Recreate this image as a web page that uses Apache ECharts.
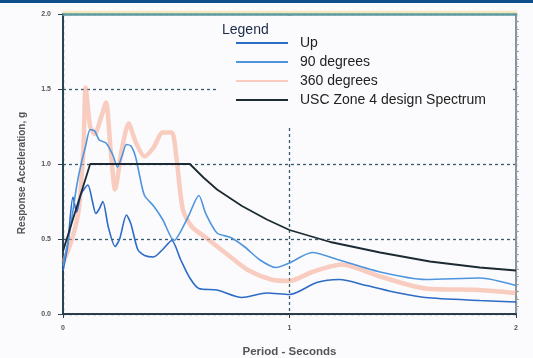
<!DOCTYPE html>
<html>
<head>
<meta charset="utf-8">
<script src="https://cdn.jsdelivr.net/npm/echarts@6/dist/echarts.min.js"></script>
<style>
html,body{margin:0;padding:0;background:#fbfbfd;}
#chart{width:533px;height:358px;}
</style>
</head>
<body>
<div id="chart"></div>
<script>
// Period (s) / acceleration (g) pairs
const upSeries = [[0,0.29],[0.02,0.45],[0.044,0.78],[0.06,0.68],[0.08,0.8],[0.11,0.86],[0.13,0.75],[0.145,0.67],[0.16,0.7],[0.176,0.75],[0.2,0.58],[0.23,0.45],[0.25,0.5],[0.28,0.66],[0.3,0.6],[0.33,0.43],[0.36,0.39],[0.40,0.38],[0.44,0.43],[0.48,0.49],[0.52,0.36],[0.56,0.24],[0.6,0.17],[0.68,0.16],[0.79,0.11],[0.9,0.14],[1.0,0.13],[1.12,0.21],[1.22,0.23],[1.34,0.19],[1.45,0.15],[1.6,0.11],[1.84,0.09],[2.0,0.08]];
const deg90Series = [[0,0.32],[0.03,0.55],[0.06,0.85],[0.08,1.0],[0.1,1.12],[0.12,1.23],[0.14,1.22],[0.16,1.16],[0.19,1.14],[0.22,1.06],[0.24,0.98],[0.26,1.05],[0.28,1.13],[0.30,1.12],[0.32,1.05],[0.34,0.91],[0.36,0.79],[0.40,0.72],[0.44,0.63],[0.49,0.49],[0.55,0.64],[0.6,0.79],[0.63,0.67],[0.68,0.54],[0.74,0.51],[0.8,0.45],[0.87,0.36],[0.94,0.31],[1.0,0.34],[1.1,0.41],[1.22,0.36],[1.4,0.28],[1.6,0.23],[1.84,0.24],[2.0,0.19]];
const deg360Series = [[0,0.34],[0.04,0.5],[0.07,0.7],[0.09,1.1],[0.10,1.51],[0.12,1.25],[0.14,1.2],[0.17,1.32],[0.19,1.41],[0.21,1.1],[0.23,0.83],[0.26,1.1],[0.29,1.27],[0.32,1.15],[0.36,1.05],[0.40,1.11],[0.44,1.21],[0.48,1.21],[0.50,1.05],[0.53,0.69],[0.57,0.58],[0.63,0.51],[0.74,0.38],[0.82,0.29],[0.92,0.23],[1.0,0.22],[1.1,0.28],[1.23,0.33],[1.4,0.25],[1.6,0.17],[1.84,0.16],[2.0,0.14]];
const uscSeries = [[0,0.42],[0.12,1.0],[0.56,1.0],[0.62,0.91],[0.68,0.83],[0.74,0.77],[0.79,0.72],[0.9,0.63],[1.0,0.56],[1.18,0.48],[1.4,0.41],[1.62,0.35],[1.84,0.31],[2.0,0.29]];
const seriesNames = ['Up','90 degrees','360 degrees','USC Zone 4 design Spectrum'];
const xTicks = [0,1,2];
const yTicks = [0,0.5,1,1.5,2];

const chart = echarts.init(document.getElementById('chart'));
const gridCol = '#3a5a6e';
const tickFont = {fontFamily:'Liberation Sans, Arial', fontSize:7, fontWeight:'bold', color:'#555'};
chart.setOption({
  backgroundColor:'#fbfbfd',
  animation:false,
  grid:{left:63, top:14, width:453, height:300, outerBoundsMode:'none', containLabel:false},
  xAxis:[{
    type:'value', min:xTicks[0], max:xTicks[xTicks.length-1], interval:1,
    name:'Period - Seconds', nameLocation:'middle', nameGap:32,
    nameTextStyle:{fontFamily:'Liberation Sans, Arial', fontSize:11.5, fontWeight:'bold', color:'#555'},
    axisLine:{onZero:false, lineStyle:{color:'#2b3d48', width:2}},
    axisTick:{show:true, length:4, lineStyle:{color:'#2b3d48'}},
    axisLabel:Object.assign({margin:11, formatter:v=>String(v)}, tickFont),
    splitLine:{show:true, lineStyle:{color:gridCol, type:[3,3], width:1.3}}
  },{
    type:'value', position:'top', min:0, max:2,
    axisLine:{onZero:false, lineStyle:{color:'#5f9ba0', width:2.5, shadowColor:'#efe2a2', shadowOffsetY:-2, shadowBlur:2}},
    axisTick:{show:false}, axisLabel:{show:false}, splitLine:{show:false}
  }],
  yAxis:[{
    type:'value', min:yTicks[0], max:yTicks[yTicks.length-1], interval:0.5,
    name:'Response Acceleration, g', nameLocation:'middle', nameGap:36, nameRotate:90,
    nameTextStyle:{fontFamily:'Liberation Sans, Arial', fontSize:10, fontWeight:'bold', color:'#555', padding:[0,0,0,-18]},
    axisLine:{show:true, onZero:false, lineStyle:{color:'#2b4454', width:2}},
    axisTick:{show:true, length:5, lineStyle:{color:'#2b4454'}},
    axisLabel:Object.assign({margin:12, formatter:v=>v.toFixed(1)}, tickFont),
    splitLine:{show:true, lineStyle:{color:gridCol, type:[3,3], width:1.3}}
  },{
    type:'value', position:'right', min:0, max:2, interval:0.5,
    axisLine:{show:true, onZero:false, lineStyle:{color:'#8a969b', width:2}},
    axisTick:{show:false}, axisLabel:{show:false}, splitLine:{show:false},
    minorTick:{show:true, splitNumber:10, length:3, lineStyle:{color:'#9aa5aa'}}
  }],
  legend:{
    orient:'vertical', left:217, top:16,
    padding:[20,26,21,18],
    backgroundColor:'#fbfbfd',
    itemWidth:52, itemHeight:14, itemGap:5,
    itemStyle:{opacity:0},
    textStyle:{fontFamily:'Liberation Sans, Arial', fontSize:14, color:'#222', lineHeight:14, padding:[0,0,0,7]},
    data:seriesNames
  },
  graphic:[
    {type:'rect', left:0, top:0, shape:{width:533, height:3}, style:{fill:'#0d4f8b'}, z:100},
    {type:'text', left:222, top:23, z:100, style:{text:'Legend', fontFamily:'Liberation Sans, Arial', fontSize:14, fill:'#1c2a48'}}
  ],
  series:[
    {name:seriesNames[0], type:'line', data:upSeries, symbol:'none', smooth:0.25, z:4,
     lineStyle:{color:'#2c6bc6', width:1.6}, itemStyle:{color:'#2c6bc6'}},
    {name:seriesNames[1], type:'line', data:deg90Series, symbol:'none', smooth:0.25, z:4,
     lineStyle:{color:'#4f95de', width:1.6}, itemStyle:{color:'#4f95de'}},
    {name:seriesNames[2], type:'line', data:deg360Series, symbol:'none', smooth:0.25, z:3,
     lineStyle:{color:'#f5a58a', width:4.5, opacity:0.55}, itemStyle:{color:'#f5a58a'}},
    {name:seriesNames[3], type:'line', data:uscSeries, symbol:'none', z:5,
     lineStyle:{color:'#1d2a33', width:1.8}, itemStyle:{color:'#1d2a33'}}
  ]
});
</script>
</body>
</html>
